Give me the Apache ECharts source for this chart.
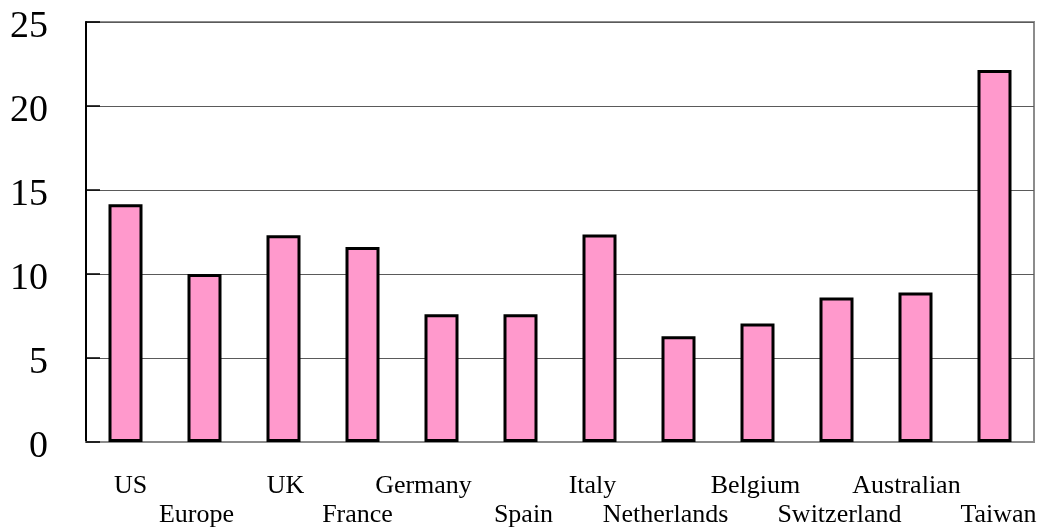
<!DOCTYPE html>
<html>
<head>
<meta charset="utf-8">
<script src="https://cdn.jsdelivr.net/npm/echarts@6/dist/echarts.min.js"></script>
<style>
html,body{margin:0;padding:0;background:#fff;}
#chart{width:1043px;height:528px;}
</style>
</head>
<body>
<div id="chart"></div>
<script>
var categories = ['US','Europe','UK','France','Germany','Spain','Italy','Netherlands','Belgium','Switzerland','Australian','Taiwan'];
var values = [14.15, 10.0, 12.3, 11.6, 7.6, 7.6, 12.35, 6.3, 7.05, 8.6, 8.9, 22.15];
var yTicks = [0, 5, 10, 15, 20, 25];

// layout: small horizontal nudges of each category label (px), as in the original layout
var labelNudge = [5, -8, 2, -5, -18, 3, -7, -13, -2, 3, -9, 4];

var rich = {};
categories.forEach(function (c, i) {
  var top = (i % 2 === 0) ? 0 : 58;
  var d = labelNudge[i];
  rich['l' + i] = {
    fontFamily: 'Liberation Serif', fontSize: 26, color: '#000', lineHeight: 26,
    padding: [top, d < 0 ? -2 * d : 0, 0, d > 0 ? 2 * d : 0]
  };
});

var chart = echarts.init(document.getElementById('chart'));
chart.setOption({
  animation: false,
  backgroundColor: '#ffffff',
  grid: {
    left: 86, right: 9, top: 22, bottom: 86,
    containLabel: false,
    outerBoundsMode: 'none',
    show: true, borderColor: '#8c8c8c', borderWidth: 2, backgroundColor: 'transparent'
  },
  xAxis: {
    type: 'category',
    data: categories,
    axisLine: { show: true, lineStyle: { color: '#8c8c8c', width: 2 } },
    axisTick: { show: false },
    axisLabel: {
      interval: 0,
      margin: 31,
      fontFamily: 'Liberation Serif',
      fontSize: 26,
      color: '#000',
      formatter: function (v, i) {
        return '{l' + i + '|' + v + '}';
      },
      rich: rich
    }
  },
  yAxis: {
    type: 'value',
    min: yTicks[0],
    max: yTicks[yTicks.length - 1],
    interval: yTicks[1] - yTicks[0],
    axisLine: { show: true, lineStyle: { color: '#000', width: 2 } },
    axisTick: { show: true, inside: true, length: 14, lineStyle: { color: '#000', width: 1.5 } },
    splitLine: { show: true, lineStyle: { color: '#5a5a5a', width: 1.2 } },
    axisLabel: {
      margin: 38,
      fontFamily: 'Liberation Serif',
      fontSize: 38,
      color: '#000',
      formatter: function (v) { return '{y|' + v + '}'; },
      rich: {
        y: { fontFamily: 'Liberation Serif', fontSize: 38, color: '#000', lineHeight: 38, padding: [10, 0, 0, 0] }
      }
    }
  },
  series: [{
    type: 'bar',
    data: values,
    barWidth: 34,
    itemStyle: { color: '#ff99cc', borderColor: '#000', borderWidth: 3 }
  }]
});
</script>
</body>
</html>
